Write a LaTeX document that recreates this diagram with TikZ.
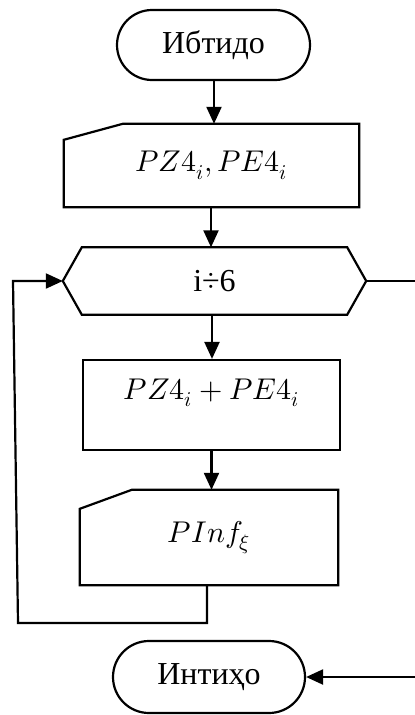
\documentclass[tikz,border=0pt]{standalone}
\usepackage{unicode-math}
\setmainfont{Liberation Serif}
\setmathfont{Latin Modern Math}
\usetikzlibrary{arrows.meta,shapes.misc}
\begin{document}
\begin{tikzpicture}[x=1pt,y=-1pt,
  every node/.style={font=\fontsize{32}{38}\selectfont},
  line/.style={line width=2.2pt},
  arr/.style={line, -{Triangle[length=17pt,width=15pt]}},
  terminal/.style={draw, line width=2.2pt, rounded rectangle, inner sep=0pt},
  blockbox/.style={inner sep=0pt},
  mathtext/.style={font=\fontsize{30}{36}\selectfont}
]
\useasboundingbox (0,0) rectangle (415,715);

% start and end terminals
\node[terminal, minimum width=193pt, minimum height=70pt] (start) at (213.5,45) {Ибтидо};
\node[terminal, minimum width=192pt, minimum height=72pt] (stop) at (209,677) {Интиҳо};

% manual input of the source data
\node[blockbox, mathtext, minimum width=295pt, minimum height=83pt] (input) at (211.5,165.5) {$PZ4_i, PE4_i$};
\draw[line] ([yshift=-16pt]input.north west) -- ([xshift=59pt]input.north west)
  -- (input.north east) -- (input.south east) -- (input.south west) -- cycle;

% loop header
\node[blockbox, minimum width=303pt, minimum height=67pt] (loop) at (214.5,281) {i÷6};
\draw[line] (loop.west) -- ([xshift=19pt]loop.north west) -- ([xshift=-19pt]loop.north east)
  -- (loop.east) -- ([xshift=-19pt]loop.south east) -- ([xshift=19pt]loop.south west) -- cycle;

% process block
\node[blockbox, draw, line width=2.2pt, minimum width=257pt, minimum height=90pt] (proc) at (211.5,405) {};
\node[blockbox, mathtext] (proctext) at (211.5,393) {$PZ4_i + PE4_i$};

% output block
\node[blockbox, mathtext, minimum width=258pt, minimum height=95pt] (output) at (209,537.5) {$PInf_\xi$};
\draw[line] ([yshift=-19pt]output.north west) -- ([xshift=52pt]output.north west)
  -- (output.north east) -- (output.south east) -- (output.south west) -- cycle;

% helper points for the loop return and exit
\coordinate (retA) at (207,623);
\coordinate (retB) at (18,623);
\coordinate (retC) at (13,281);
\coordinate (exitA) at (417,281);
\coordinate (exitB) at (417,677);

% connectors
\draw[arr] ([xshift=0.5pt]start.south) -- ([xshift=0.5pt]start.south |- input.north);
\draw[arr] ([xshift=-0.5pt]input.south) -- ([xshift=-0.5pt]input.south |- loop.north);
\draw[arr] ([xshift=-2.5pt]loop.south) -- ([xshift=-2.5pt]loop.south |- proc.north);
\draw[arr] (proc.south) -- (proc.south |- output.north);
\draw[arr] (output.south -| retA) -- (retA) -- (retB) -- (retC) -- (loop.west);
\draw[arr] (loop.east) -- (exitA) -- (exitB) -- (stop.east);
\end{tikzpicture}
\end{document}
